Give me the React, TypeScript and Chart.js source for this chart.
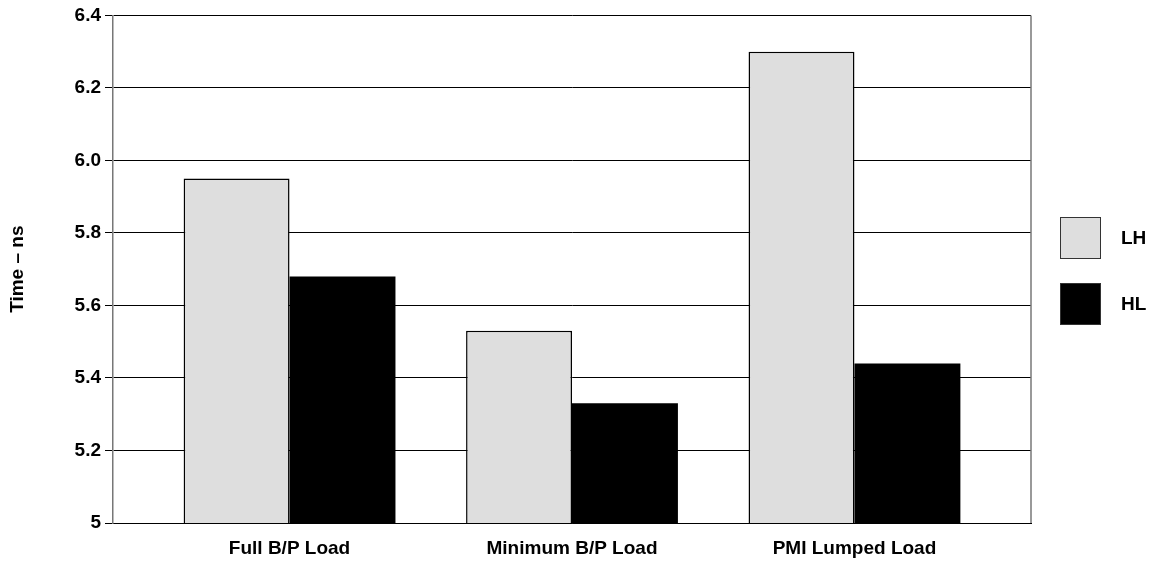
import React, { useEffect, useRef } from "react";
import { Chart, registerables } from "chart.js";

Chart.register(...registerables);

const categories = ["Full B/P Load", "Minimum B/P Load", "PMI Lumped Load"];
const lhValues = [5.95, 5.53, 6.3];
const hlValues = [5.68, 5.33, 5.44];
const seriesNames = ["LH", "HL"];
const yTicks = [5, 5.2, 5.4, 5.6, 5.8, 6.0, 6.2, 6.4];
const yTitle = "Time \u2013 ns";

const FONT = "'Liberation Sans', Arial, sans-serif";

const legendPlugin = {
  id: "customLegendBorder",
  afterDraw(chart: any) {
    const ctx = chart.ctx;
    const area = chart.chartArea;
    ctx.save();
    // right border
    ctx.strokeStyle = "#777777";
    ctx.lineWidth = 1.5;
    ctx.beginPath();
    ctx.moveTo(area.right, area.top);
    ctx.lineTo(area.right, area.bottom);
    ctx.stroke();
    // legend
    const boxX = 1060;
    const boxW = 41;
    const boxH = 42;
    const tops = [217, 283];
    chart.data.datasets.forEach((ds: any, i: number) => {
      const y = tops[i];
      ctx.fillStyle = ds.backgroundColor;
      ctx.fillRect(boxX, y, boxW, boxH);
      ctx.strokeStyle = "#333333";
      ctx.lineWidth = 1;
      ctx.strokeRect(boxX + 0.5, y + 0.5, boxW - 1, boxH - 1);
      ctx.fillStyle = "#000";
      ctx.font = `bold 19px ${FONT}`;
      ctx.textBaseline = "middle";
      ctx.textAlign = "left";
      ctx.fillText(ds.label, 1121, y + boxH / 2 + 1);
    });
    ctx.restore();
  },
};

export default function App() {
  const ref = useRef<HTMLCanvasElement | null>(null);

  useEffect(() => {
    document.body.style.margin = "0";
    const canvas = ref.current;
    if (!canvas) return;
    const chart = new Chart(canvas, {
      type: "bar",
      data: {
        datasets: [
          {
            label: seriesNames[0],
            data: lhValues.map((v, i) => ({ x: i, y: v })),
            backgroundColor: "#dedede",
            borderColor: "#000000",
            borderWidth: 1.5,
          },
          {
            label: seriesNames[1],
            data: hlValues.map((v, i) => ({ x: i, y: v })),
            backgroundColor: "#000000",
            borderColor: "#000000",
            borderWidth: 0,
          },
        ],
      },
      options: {
        responsive: false,
        animation: false,
        events: [],
        layout: { padding: { top: 14, right: 123, bottom: 0, left: 0 } },
        datasets: {
          bar: { categoryPercentage: 0.75, barPercentage: 1 },
        },
        plugins: {
          legend: { display: false },
          tooltip: { enabled: false },
        },
        scales: {
          x: {
            type: "linear",
            offset: false,
            min: -0.625,
            max: 2.625,
            grid: { display: false, drawTicks: false, offset: false },
            border: { display: true, color: "#000", width: 1 },
            afterBuildTicks: (scale: any) => {
              scale.ticks = categories.map((_, i) => ({ value: i }));
            },
            afterFit: (scale: any) => {
              scale.height = 41;
            },
            ticks: {
              autoSkip: false,
              maxRotation: 0,
              padding: 14,
              color: "#000",
              font: { family: FONT, size: 19, weight: "bold" },
              callback: (v: any) => categories[Math.round(v)] ?? "",
            },
          },
          y: {
            min: yTicks[0],
            max: yTicks[yTicks.length - 1],
            afterBuildTicks: (scale: any) => {
              scale.ticks = yTicks.map((v) => ({ value: v }));
            },
            afterFit: (scale: any) => {
              scale.width = 113;
            },
            grid: {
              color: "#000",
              lineWidth: 1,
              drawTicks: true,
              tickLength: 8,
              tickColor: "#000",
            },
            border: { display: true, color: "#777777", width: 1.5 },
            title: {
              display: true,
              text: yTitle,
              color: "#000",
              font: { family: FONT, size: 19, weight: "bold" },
              padding: { top: 6, bottom: 0 },
            },
            ticks: {
              padding: 4,
              color: "#000",
              font: { family: FONT, size: 19, weight: "bold" },
              callback: (v: any) =>
                Math.abs(v - 5) < 1e-9 ? "5" : Number(v).toFixed(1),
            },
          },
        },
      },
      plugins: [legendPlugin],
    } as any);
    return () => chart.destroy();
  }, []);

  return (
    <div style={{ width: 1154, height: 564 }}>
      <canvas ref={ref} width={1154} height={564} />
    </div>
  );
}
